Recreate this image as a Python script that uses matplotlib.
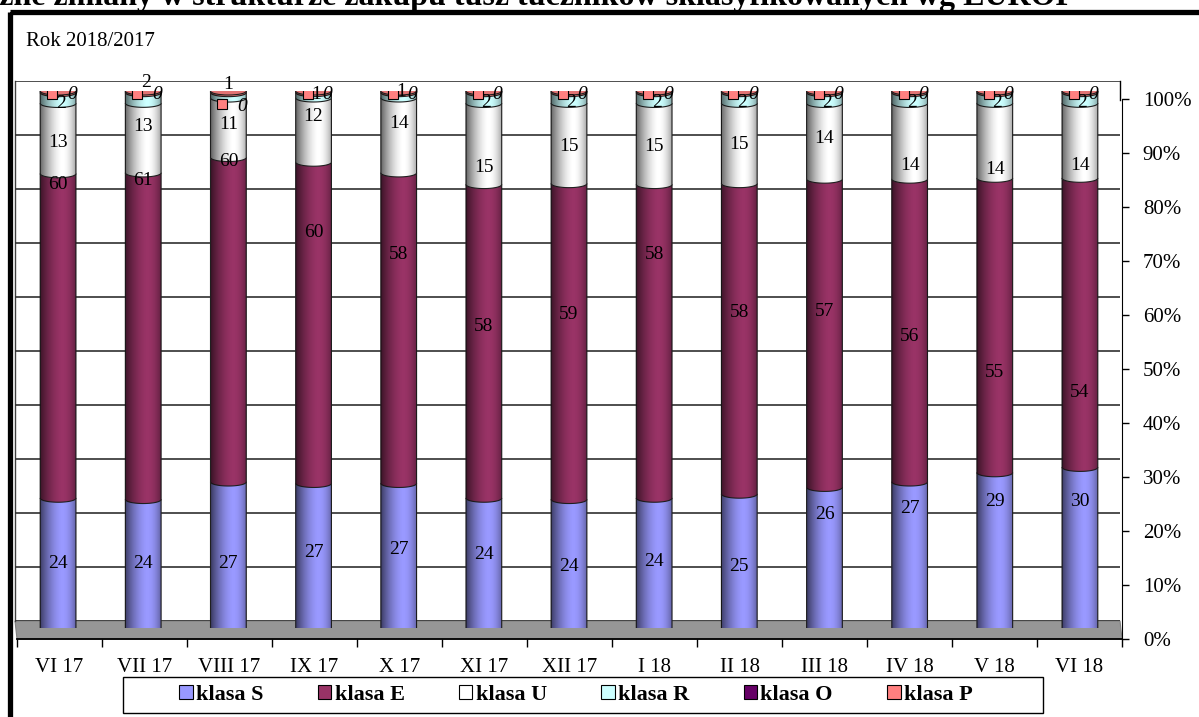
import numpy as np
import matplotlib
matplotlib.use('Agg')
import matplotlib.pyplot as plt
from matplotlib.patches import PathPatch, Ellipse, Rectangle, Patch, Polygon
from matplotlib.path import Path

plt.rcParams['font.family'] = ['Liberation Serif', 'DejaVu Serif']

# dane
months = ['VI 17', 'VII 17', 'VIII 17', 'IX 17', 'X 17', 'XI 17', 'XII 17',
          'I 18', 'II 18', 'III 18', 'IV 18', 'V 18', 'VI 18']
klasa_s = [24, 24, 27, 27, 27, 24, 24, 24, 25, 26, 27, 29, 30]
klasa_e = [60, 61, 60, 60, 58, 58, 59, 58, 58, 57, 56, 55, 54]
klasa_u = [13, 13, 11, 12, 14, 15, 15, 15, 15, 14, 14, 14, 14]
klasa_r = [2, 2, 1, 1, 1, 2, 2, 2, 2, 2, 2, 2, 2]
klasa_o = [0, 0, 0, 0, 0, 0, 0, 0, 0, 0, 0, 0, 0]
klasa_p = [0.3, 0.3, 0.3, 0.3, 0.3, 0.3, 0.3, 0.3, 0.3, 0.3, 0.3, 0.3, 0.3]
names = ['klasa S', 'klasa E', 'klasa U', 'klasa R', 'klasa O', 'klasa P']
colors = ['#9999FF', '#993366', '#FFFFFF', '#CCFFFF', '#660066', '#FF8080']

# polozenia etykiet (w % osi), tak jak na oryginale
s_lab_y = [12.1, 12.1, 12.1, 14.0, 14.7, 13.6, 11.5, 12.3, 11.5, 21.2, 22.3, 23.6, 23.6]
e_lab_y = [82.5, 83.4, 86.8, 73.6, 69.5, 56.1, 58.3, 69.5, 58.7, 58.9, 54.2, 47.5, 43.8]
u_lab_y = [90.5, 93.3, 93.7, 95.2, 93.9, 85.8, 89.6, 89.6, 90.0, 91.1, 86.2, 85.3, 86.2]
r_lab_y = [97.6, 101.5, 101.3, 99.4, 99.9, 97.8, 97.8, 97.8, 97.8, 97.8, 97.8, 97.8, 97.8]

W, H = 1199, 717


def box(l, t, r, b):
    return [l / W, 1 - b / H, (r - l) / W, (b - t) / H]


fig = plt.figure(figsize=(W / 100, H / 100), dpi=100)

# tlo w pikselach: ramka, podloga, ramka legendy
bg = fig.add_axes([0, 0, 1, 1], zorder=0)
bg.set_xlim(0, W)
bg.set_ylim(H, 0)
bg.axis('off')
bg.add_patch(Rectangle((9.5, 11.5), 1300, 800, fill=False, lw=3.8, ec='black', clip_on=False))
bg.add_patch(Polygon([(15, 621), (1120, 621), (1122, 639), (17, 639)], closed=True,
                     fc='#969696', ec='#808080', lw=0.8))
bg.plot([15, 15], [81, 621], color='#404040', lw=1)
bg.plot([1120, 1120], [81, 100], color='black', lw=1)
bg.add_patch(Rectangle((123, 677), 920, 36, fill=False, lw=1, ec='black'))

# tylna sciana z liniami siatki
wall = fig.add_axes(box(15, 81, 1120, 621), zorder=1)
wall.set_facecolor('none')
wall.set_ylim(0, 100)
wall.set_xlim(0, 1)
for s in wall.spines.values():
    s.set_visible(False)
wall.set_xticks([])
wall.set_yticks(np.arange(0, 101, 10))
wall.tick_params(left=False, labelleft=False)
wall.grid(axis='y', color='#303030', lw=1.2)

# os z opisami (przod)
rax = fig.add_axes(box(17, 99, 1122, 639), zorder=2)
rax.set_facecolor('none')
rax.set_ylim(0, 100)
rax.set_xlim(0, len(months))
rax.spines['top'].set_visible(False)
rax.spines['left'].set_visible(False)
rax.spines['right'].set_bounds(0, 100)
rax.yaxis.tick_right()
rax.set_yticks(np.arange(0, 101, 10))
rax.set_yticklabels([f'{v}%' for v in range(0, 101, 10)])
rax.tick_params(axis='y', direction='out', length=5, width=1, pad=10, labelsize=15)
rax.set_xticks(np.arange(0, len(months) + 1))
rax.set_xticklabels([])
rax.set_xticks(np.arange(len(months)) + 0.5, minor=True)
rax.set_xticklabels(months, minor=True)
rax.tick_params(axis='x', which='major', direction='out', length=6, width=1)
rax.tick_params(axis='x', which='minor', length=0, pad=14, labelsize=15)
rax.spines['bottom'].set_linewidth(1.3)

# slupki (cylindry)
ax = fig.add_axes(box(15.5, 91, 1122.5, 628), zorder=3)
ax.set_facecolor('none')
ax.set_xlim(-0.5, len(months) - 0.5)
ax.set_ylim(0, 100)
ax.axis('off')

series = [klasa_s, klasa_e, klasa_u, klasa_r, klasa_o, klasa_p]
data = np.array(series, dtype=float)
pct = data / data.sum(axis=0) * 100
bottoms = np.vstack([np.zeros(len(months)), np.cumsum(pct, axis=0)[:-1]])

bw = 0.42
eh = 0.75
t = np.linspace(0, 1, 80)
shade = np.where(t < 0.62, 0.6 * (1 - t / 0.62) ** 1.6, 0.35 * ((t - 0.62) / 0.38) ** 2)
grad = np.zeros((1, len(t), 4))
grad[..., 3] = shade
theta = np.linspace(np.pi, 2 * np.pi, 40)

z = 3.0
for i in range(len(months)):
    for k in range(len(series)):
        h = pct[k, i]
        if h <= 0:
            continue
        y0 = bottoms[k, i]
        y1 = y0 + h
        xl, xr = i - bw / 2, i + bw / 2
        verts = [(xl, y1)] + list(zip(i + bw / 2 * np.cos(theta), y0 + eh * np.sin(theta))) + [(xr, y1), (xl, y1)]
        codes = [Path.MOVETO] + [Path.LINETO] * (len(verts) - 2) + [Path.CLOSEPOLY]
        patch = PathPatch(Path(verts, codes), fc=colors[k], ec='#202020', lw=0.8, zorder=z)
        ax.add_patch(patch)
        im = ax.imshow(grad, extent=[xl, xr, y0 - eh, y1], aspect='auto', interpolation='bilinear', zorder=z + 0.01)
        im.set_clip_path(patch)
        z += 0.1
    ax.add_patch(Ellipse((i, 100), bw, 2 * eh, fc='#E07373', ec='#202020', lw=0.8, zorder=z))
    z += 0.1

lab_kw = dict(ha='center', va='center', fontsize=14, zorder=50)
for i in range(len(months)):
    ax.text(i, s_lab_y[i], f'{klasa_s[i]}', **lab_kw)
    ax.text(i, e_lab_y[i], f'{klasa_e[i]}', **lab_kw)
    ax.text(i, u_lab_y[i], f'{klasa_u[i]}', **lab_kw)
    if i == 2:
        ax.text(i, r_lab_y[i], f'{klasa_r[i]}', **lab_kw)
        ax.plot(i - 0.07, 97.6, 's', ms=7, mfc=colors[5], mec='black', mew=0.8, zorder=51)
        ax.text(i + 0.16, 97.2, f'{klasa_p[i]:.0f}', style='italic', **lab_kw)
    else:
        ax.text(i + 0.03, r_lab_y[i], f'{klasa_r[i]}', **lab_kw)
        ax.plot(i - 0.07, 99.4, 's', ms=7, mfc=colors[5], mec='black', mew=0.8, zorder=51)
        ax.text(i + 0.16, 99.4, f'{klasa_p[i]:.0f}', style='italic', **lab_kw)

# teksty
fig.text(26 / W, 1 - 42 / H, 'Rok 2018/2017', fontsize=15, va='center', ha='left')
fig.text(1075 / W, 1 - 5 / H,
         'Miesięczne zmiany w strukturze zakupu tusz tuczników sklasyfikowanych wg EUROP',
         fontsize=23, fontweight='bold', ha='right', va='baseline')

handles = [Patch(fc=c, ec='black', lw=0.8) for c in colors]
leg = fig.legend(handles, names, ncol=6, loc='center',
                 bbox_to_anchor=(576 / W, 1 - 695 / H),
                 prop={'weight': 'bold', 'size': 16}, handlelength=0.6, handleheight=0.6,
                 handletextpad=0.15, columnspacing=2.45, frameon=False,
                 borderaxespad=0, borderpad=0.2)

fig.savefig('out.png', dpi=100)
